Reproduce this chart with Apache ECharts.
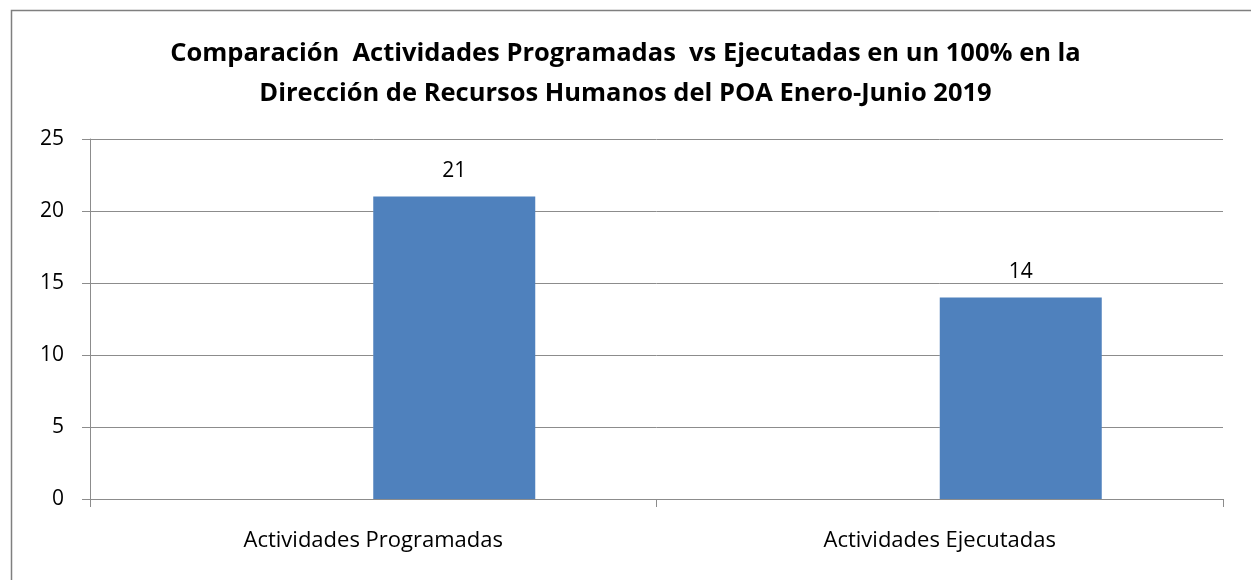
<!DOCTYPE html>
<html>
<head>
<meta charset="utf-8">
<script src="https://cdn.jsdelivr.net/npm/echarts@6/dist/echarts.min.js"></script>
<style>
  html, body { margin: 0; padding: 0; background: #fff; }
  #chart { width: 1251px; height: 580px; }
</style>
</head>
<body>
<div id="chart"></div>
<script>
// Categorías del eje X
const categorias = ['Actividades Programadas', 'Actividades Ejecutadas'];
// Primera serie del libro: sin datos (ocupa la mitad izquierda de cada categoría)
const serieSinDatos = [null, null];
// Número de actividades
const actividades = [21, 14];
// Rango y paso del eje Y
const ejeYMin = 0;
const ejeYMax = 25;
const ejeYPaso = 5;

const titulo = 'Comparación  Actividades Programadas  vs Ejecutadas en un 100% en la\nDirección de Recursos Humanos del POA Enero-Junio 2019';

const chart = echarts.init(document.getElementById('chart'), null, { renderer: 'canvas' });

const fuente = '"Open Sans", Lato, sans-serif';
const gris = '#8c8c8c';

chart.setOption({
  animation: false,
  backgroundColor: '#ffffff',
  title: {
    text: titulo,
    left: 'center',
    top: 29,
    textStyle: {
      fontFamily: fuente,
      fontWeight: 'bold',
      fontSize: 25.5,
      lineHeight: 40,
      color: '#000'
    }
  },
  graphic: [{
    type: 'rect',
    left: 9,
    top: 8,
    shape: { width: 1300, height: 640 },
    style: { fill: 'none', stroke: '#7f7f7f', lineWidth: 1.5 },
    silent: true
  }],
  grid: { left: 90, right: 28, top: 139, bottom: 81 },
  xAxis: {
    type: 'category',
    data: categorias,
    axisLine: { show: true, lineStyle: { color: gris, width: 1 } },
    axisTick: { show: true, length: 8, alignWithLabel: false, lineStyle: { color: gris } },
    axisLabel: {
      fontFamily: fuente,
      fontSize: 22,
      color: '#000',
      margin: 31
    }
  },
  yAxis: {
    type: 'value',
    min: ejeYMin,
    max: ejeYMax,
    interval: ejeYPaso,
    axisLine: { show: true, lineStyle: { color: gris, width: 1 } },
    axisTick: { show: true, length: 8, lineStyle: { color: gris } },
    splitLine: { show: true, lineStyle: { color: gris, width: 1 } },
    axisLabel: {
      fontFamily: fuente,
      fontSize: 21,
      color: '#000',
      margin: 26
    }
  },
  series: [
    {
      type: 'bar',
      data: serieSinDatos,
      barWidth: 162,
      barGap: '0%',
      itemStyle: { color: '#4F81BD' }
    },
    {
      type: 'bar',
      name: 'Actividades',
      data: actividades,
      barWidth: 162,
      barGap: '0%',
      itemStyle: { color: '#4F81BD' },
      label: {
        show: true,
        position: 'top',
        distance: 15,
        fontFamily: fuente,
        fontSize: 21,
        color: '#000'
      }
    }
  ]
});
</script>
</body>
</html>
